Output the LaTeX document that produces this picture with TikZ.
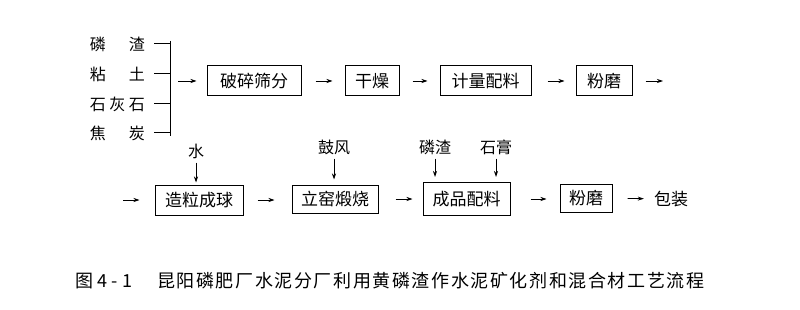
\documentclass[tikz,border=0pt]{standalone}
\usepackage{fontspec}
\setmainfont{Noto Sans CJK SC}
\usepackage{tikz}
\usetikzlibrary{arrows,arrows.meta,shapes,positioning,calc}
\newcommand{\spreadto}[2]{\makebox[#1][s]{#2}}

\begin{document}
\begin{tikzpicture}[
    x=1pt, y=-1pt, >={Stealth[length=6pt,width=4pt]},
    box/.style={rectangle, draw, line width=1pt, minimum height=30pt, inner sep=0pt,
        font=\fontsize{17pt}{20pt}\selectfont},
    lab/.style={inner sep=0pt, font=\fontsize{16pt}{19pt}\selectfont},
    flow/.style={->, line width=0.8pt, shorten <=13pt, shorten >=12pt}
]
    \useasboundingbox[fill=white] (0,0) rectangle (800,310);
    % raw materials and bracket
    \node[lab, anchor=east] (mat1) at (145,44) {\spreadto{55pt}{磷\hfill 渣}};
    \node[lab, anchor=east] (mat2) at (145,74) {\spreadto{55pt}{粘\hfill 土}};
    \node[lab, anchor=east] (mat3) at (145,104) {\spreadto{55pt}{石\hfill 灰\hfill 石}};
    \node[lab, anchor=east] (mat4) at (145,133) {\spreadto{55pt}{焦\hfill 炭}};
    \coordinate (brk) at (170,81);
    \coordinate (brktop) at (170,41);
    \coordinate (brkbot) at (170,136);
    \foreach \i in {1,...,4}
        \draw[line width=1pt] ([xshift=9pt]mat\i.east) -- (mat\i.east -| brk);
    \draw[line width=1pt] (brktop) -- (brkbot);

    % first line
    \node[box, minimum width=94pt] (crush) at (254,81) {破碎筛分};
    \node[box, minimum width=54pt] (dry) at (372,81) {干燥};
    \node[box, minimum width=91pt] (meter) at (485.5,81) {计量配料};
    \node[box, minimum width=56pt] (mill) at (604,81) {粉磨};
    \coordinate (out1) at (663,81);
    \draw[flow, shorten <=8pt, shorten >=10pt] (brk) -- (crush.west);
    \draw[flow, shorten <=14pt] (crush) -- (dry);
    \draw[flow] (dry) -- (meter);
    \draw[flow, shorten <=16pt, shorten >=11pt] (meter) -- (mill);
    \draw[flow, shorten >=0pt] (mill) -- (out1);

    % second line
    \coordinate (in2) at (123,200);
    \node[box, minimum width=88pt] (pellet) at (199,200) {造粒成球};
    \node[box, minimum width=86pt, minimum height=28pt] (kiln) at (335,199) {立窑煅烧};
    \node[box, minimum width=87pt, minimum height=33pt] (blend) at (466.5,199) {成品配料};
    \node[box, minimum width=52pt, minimum height=28pt] (mill2) at (586,198) {粉磨};
    \node[lab, font=\fontsize{17pt}{20pt}\selectfont] (pack) at (671,199) {包装};
    \draw[flow, shorten <=0pt, shorten >=15pt] (in2) -- (in2 -| pellet.west);
    \draw[flow, shorten <=14pt, shorten >=17pt] (pellet.east) -- (pellet.east -| kiln.west);
    \draw[flow, shorten <=17pt, shorten >=10pt] (kiln.east) -- (kiln.east -| blend.west);
    \draw[flow, shorten <=20pt, shorten >=13pt] (blend.east) -- (blend.east -| mill2.west);
    \draw[flow, shorten <=15pt, shorten >=10pt] (mill2) -- (pack);

    % additions from above
    \node[lab] (water) at (196,151) {水};
    \node[lab] (blow) at (334,147) {鼓风};
    \node[lab] (slag) at (435,147) {磷渣};
    \node[lab] (gyps) at (496,147) {石膏};
    \draw[flow, shorten <=4pt, shorten >=2pt] (water) -- (water |- pellet.north);
    \draw[flow, shorten <=4pt, shorten >=5pt] (blow) -- (blow |- kiln.north);
    \draw[flow, shorten <=4pt, shorten >=5pt] (slag) -- (slag |- blend.north);
    \draw[flow, shorten <=4pt, shorten >=5pt] (gyps) -- (gyps |- blend.north);

    % caption
    \node[anchor=west, inner sep=0pt, font=\fontsize{18pt}{21pt}\selectfont] (fignum) at (75,281)
        {\spreadto{57pt}{图\hfill 4\hfill -\hfill 1}};
    \node[anchor=west, inner sep=0pt, font=\fontsize{18pt}{21pt}\selectfont] (title) at (157,281)
        {\spreadto{547pt}{昆\hfill 阳\hfill 磷\hfill 肥\hfill 厂\hfill 水\hfill 泥\hfill
        分\hfill 厂\hfill 利\hfill 用\hfill 黄\hfill 磷\hfill 渣\hfill 作\hfill 水\hfill
        泥\hfill 矿\hfill 化\hfill 剂\hfill 和\hfill 混\hfill 合\hfill 材\hfill 工\hfill
        艺\hfill 流\hfill 程}};
\end{tikzpicture}
\end{document}
